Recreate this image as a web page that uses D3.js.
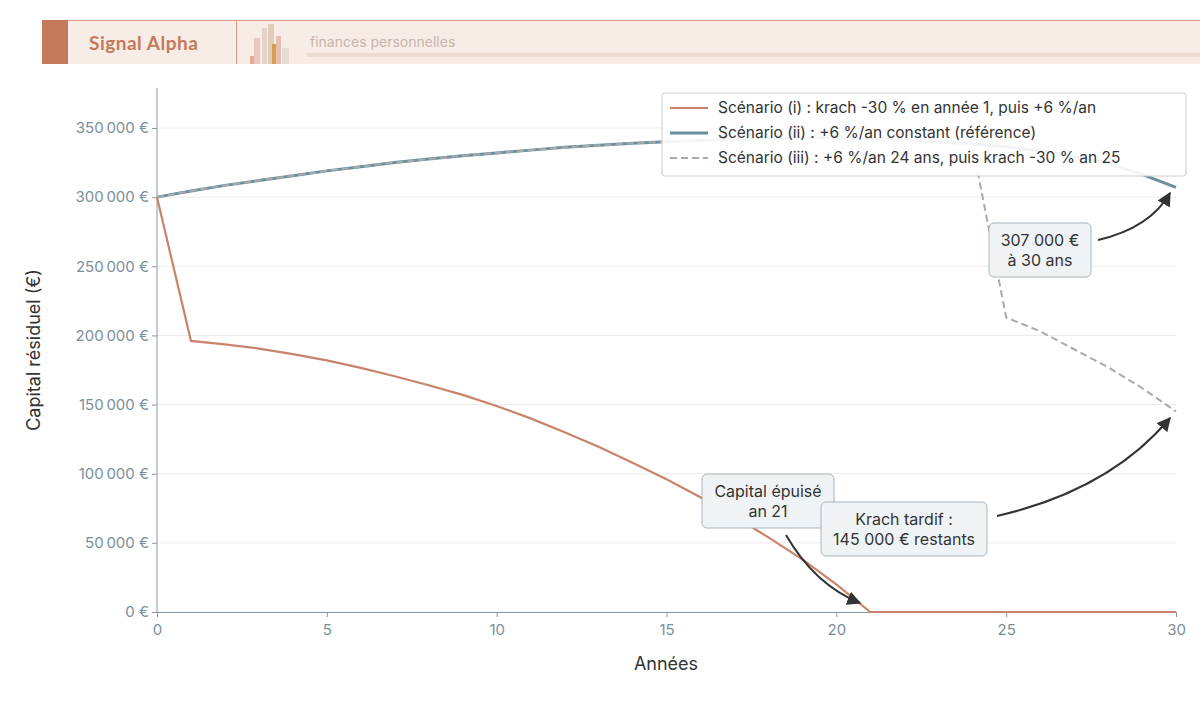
<!DOCTYPE html><html><head><meta charset="utf-8"><script src="https://cdn.jsdelivr.net/npm/d3@7"></script>
<style>body{margin:0;background:#fff;font-family:Inter,sans-serif}</style></head><body><svg id="c" width="1200" height="721"></svg><script>
const years=d3.range(0,31);
const scenI=[300000,196000,193500,190500,186500,182000,176500,170500,164000,157000,149000,140000,130000,119500,108000,96000,83000,69000,54000,38000,20000,0,0,0,0,0,0,0,0,0,0];
const scenII=[300000,304500,308500,312000,315500,319000,322000,325000,327500,330000,332000,334000,336000,337500,339000,340000,341000,342000,342500,343000,343000,342500,341500,340000,338500,336500,333500,329500,324500,316500,307000];
const scenIII=[...scenII.slice(0,25),213000,203000,190000,177000,162000,145000];
const yTicks=[0,50000,100000,150000,200000,250000,300000,350000];
const xTicks=[0,5,10,15,20,25,30];
const legendLabels=["Scénario (i) : krach -30 % en année 1, puis +6 %/an","Scénario (ii) : +6 %/an constant (référence)","Scénario (iii) : +6 %/an 24 ans, puis krach -30 % an 25"];
const svg=d3.select("#c");
// header
svg.append("rect").attr("x",42).attr("y",20).attr("width",1158).attr("height",44).attr("fill","#f8ece6");
svg.append("line").attr("x1",42).attr("x2",1200).attr("y1",20.5).attr("y2",20.5).attr("stroke","#d49a80");
svg.append("rect").attr("x",42).attr("y",20).attr("width",26).attr("height",44).attr("fill","#c47a5a");
svg.append("line").attr("x1",236.5).attr("x2",236.5).attr("y1",20).attr("y2",64).attr("stroke","#d49a80");
svg.append("text").attr("x",89).attr("y",50).attr("fill","#c47a5a").attr("font-size",19).attr("font-weight",700).attr("font-family","Lato").attr("letter-spacing",0.5).text("Signal Alpha");
[[250,56,4,8,"#e0a080"],[254,38,6,26,"#e8c0b8"],[262,28,5,36,"#e0cfc0"],[268,24,6,40,"#d8c8b0"],[272,44,4,20,"#d99040"],[276,36,5,28,"#e0b8a8"],[282,48,7,16,"#e6d8cc"]].forEach(b=>svg.append("rect").attr("x",b[0]).attr("y",b[1]).attr("width",b[2]).attr("height",b[3]).attr("fill",b[4]).attr("opacity",0.85));
svg.append("text").attr("x",310).attr("y",47).attr("fill","#c9b4a6").attr("font-size",14).text("finances personnelles");
svg.append("rect").attr("x",307).attr("y",53).attr("width",893).attr("height",4).attr("fill","#eadcd0");
// scales
const x=d3.scaleLinear().domain([0,30]).range([157,1176]);
const y=d3.scaleLinear().domain([0,350000]).range([612,128]);
const g=svg.append("g");
yTicks.forEach(t=>g.append("line").attr("x1",157).attr("x2",1176).attr("y1",y(t)).attr("y2",y(t)).attr("stroke","#ececec"));
const fmt=v=>d3.format(",")(v).replace(/,/g,"\u202f")+" €";
const ya=svg.append("g").attr("transform","translate(157,0)").call(d3.axisLeft(y).tickValues(yTicks).tickFormat(fmt).tickSize(5));
const xa=svg.append("g").attr("transform","translate(0,612)").call(d3.axisBottom(x).tickValues(xTicks).tickSize(5));
[ya,xa].forEach(a=>{a.selectAll("path,line").attr("stroke","#8a9aa4");a.selectAll("text").attr("fill","#7a8f9a").attr("font-size",15).attr("font-family","Inter");});
ya.select(".domain").attr("d","M0,88V612");
xa.selectAll("text").attr("dy","1em");
svg.append("text").attr("x",666).attr("y",670).attr("text-anchor","middle").attr("font-size",18).attr("fill","#333").text("Années");
svg.append("text").attr("transform","translate(40,350) rotate(-90)").attr("text-anchor","middle").attr("font-size",18).attr("fill","#333").text("Capital résiduel (€)");
const line=d3.line().x((d,i)=>x(years[i])).y(d=>y(d));
svg.append("path").attr("d",line(scenII)).attr("fill","none").attr("stroke","#6a8fa0").attr("stroke-width",3);
svg.append("path").attr("d",line(scenIII)).attr("fill","none").attr("stroke","#aaa").attr("stroke-width",2).attr("stroke-dasharray","7,4");
svg.append("path").attr("d",line(scenI)).attr("fill","none").attr("stroke","#c8846a").attr("stroke-width",2.2);
// legend
const lg=svg.append("g");
lg.append("rect").attr("x",662).attr("y",93).attr("width",524).attr("height",83).attr("rx",3).attr("fill","rgba(255,255,255,0.9)").attr("stroke","#ccc");
const st=[["#c8846a",2.2,null],["#6a8fa0",3,null],["#aaa",2,"7,4"]];
legendLabels.forEach((l,i)=>{const yy=108+i*25;
lg.append("line").attr("x1",670).attr("x2",708).attr("y1",yy).attr("y2",yy).attr("stroke",st[i][0]).attr("stroke-width",st[i][1]).attr("stroke-dasharray",st[i][2]);
lg.append("text").attr("x",718).attr("y",yy+5).attr("font-size",15.5).attr("fill","#333").text(l);});
// annotations
svg.append("defs").append("marker").attr("id","ah").attr("viewBox","0 0 10 10").attr("refX",9).attr("refY",5).attr("markerWidth",7).attr("markerHeight",7).attr("orient","auto").append("path").attr("d","M0,0L10,5L0,10z").attr("fill","#333");
function box(cx,cy,w,h,lines){svg.append("rect").attr("x",cx-w/2).attr("y",cy-h/2).attr("width",w).attr("height",h).attr("rx",5).attr("fill","#f0f3f5").attr("stroke","#aab4bb");
lines.forEach((t,i)=>svg.append("text").attr("x",cx).attr("y",cy-(lines.length-1)*10+i*20+6).attr("text-anchor","middle").attr("font-size",16).attr("fill","#333").text(t));}
function arrow(d){svg.append("path").attr("d",d).attr("fill","none").attr("stroke","#333").attr("stroke-width",2).attr("marker-end","url(#ah)");}
arrow("M786,535 Q815,585 860,603");
arrow("M997,516 Q1110,490 1170,418");
arrow("M1098,240 Q1150,228 1170,193");
box(768,501,132,54,["Capital épuisé","an 21"]);
box(904,529,166,54,["Krach tardif :","145 000 € restants"]);
box(1040,250,102,54,["307 000 €","à 30 ans"]);
</script></body></html>
